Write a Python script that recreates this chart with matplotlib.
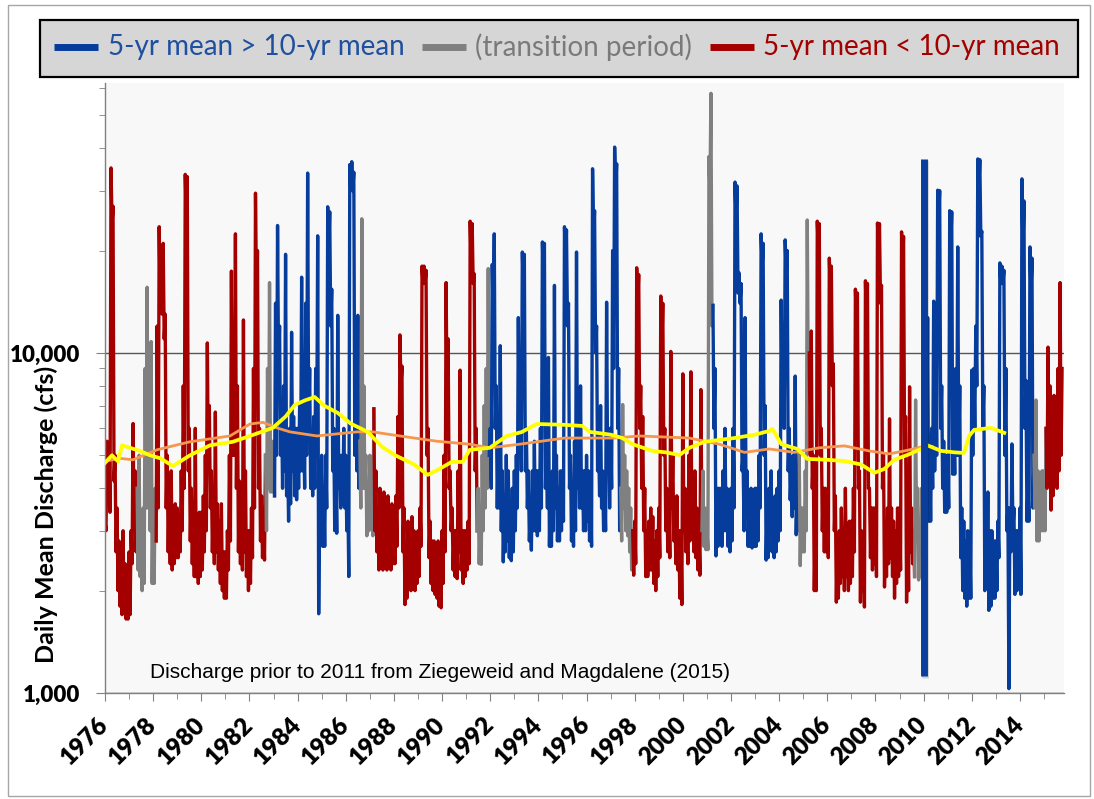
import matplotlib
matplotlib.use("Agg")
import matplotlib.pyplot as plt
import matplotlib.patheffects as pe
from matplotlib.patches import Rectangle
from matplotlib.lines import Line2D
import numpy as np

# ---- data (cfs) ----
start_year = 1976
# upper value reached in each month, Jan 1976 .. Oct 2015
month_peak_cfs = [
    3200, 5500, 5000, 35000, 27000, 5000, 3500, 2800, 2600, 3000, 2400, 2200,  # 1976
    2600, 3000, 6200, 4500, 4000, 5000, 3200, 3500, 9000, 15600, 5500, 10800,  # 1977
    3500, 4000, 12000, 23500, 16000, 21000, 13000, 5000, 4000, 4500, 3500, 3600,  # 1978
    3500, 3300, 4500, 8000, 33500, 33000, 6000, 4000, 3500, 6000, 3000, 3400,  # 1979
    3400, 3800, 5000, 10700, 7000, 4500, 3500, 6700, 3600, 3200, 3600, 2600,  # 1980
    2600, 3000, 5000, 17400, 9000, 22400, 8000, 4200, 3500, 12500, 4500, 3000,  # 1981
    3000, 3500, 9000, 29500, 20000, 6000, 3800, 3200, 5000, 9000, 16100, 5500,  # 1982
    5500, 14000, 23700, 12000, 7000, 8000, 19500, 5000, 6000, 11500, 6500, 6000,  # 1983
    6000, 7000, 16700, 6000, 14000, 33800, 9000, 5500, 6500, 9000, 22100, 4000,  # 1984
    5000, 4000, 5000, 26900, 26000, 15400, 6000, 4500, 12900, 5000, 5000, 6000,  # 1985
    5000, 4000, 35800, 36500, 34000, 9000, 12900, 5500, 24800, 8000, 5000, 4000,  # 1986
    5000, 4000, 6850, 4500, 3500, 4000, 3400, 3900, 3300, 3800, 3200, 3600,  # 1987
    3300, 3800, 6500, 11300, 9150, 3500, 2600, 3200, 3000, 3300, 3000, 2800,  # 1988
    3000, 3500, 18000, 18000, 17500, 6000, 3200, 2800, 2800, 2600, 2800, 2500,  # 1989
    3000, 5000, 16100, 11000, 4500, 3500, 3000, 3000, 4500, 8900, 3000, 3000,  # 1990
    3000, 3200, 24400, 24000, 17100, 6000, 4000, 3200, 5000, 7000, 9000, 17700,  # 1991
    6000, 18200, 22400, 8000, 5500, 10500, 4500, 3500, 5000, 4500, 3500, 4000,  # 1992
    4500, 5000, 12700, 9000, 19800, 19500, 6000, 4500, 3500, 4500, 5500, 4500,  # 1993
    4500, 6000, 21200, 21000, 5500, 9700, 4000, 4500, 15800, 5000, 4000, 4500,  # 1994
    4500, 23500, 23000, 14000, 5000, 4000, 5500, 19800, 5000, 8000, 4500, 4500,  # 1995
    5000, 4500, 4000, 34800, 26200, 12000, 5500, 7000, 4500, 4000, 14100, 6000,  # 1996
    6000, 20000, 40300, 36000, 9000, 4000, 7050, 5000, 4500, 4000, 3500, 3000,  # 1997
    3200, 17800, 17000, 8000, 6500, 4000, 3000, 3200, 3500, 3300, 2800, 3000,  # 1998
    3500, 14700, 14000, 6000, 4000, 3800, 10100, 5000, 3500, 3800, 3000, 3000,  # 1999
    8680, 4000, 3500, 5000, 8800, 4000, 4500, 3500, 3000, 7800, 4500, 3500,  # 2000
    3000, 37800, 58000, 13800, 9000, 4000, 4000, 4000, 4500, 6000, 4000, 3500,  # 2001
    4000, 6000, 31800, 31000, 17200, 16000, 5000, 12700, 4500, 3500, 4000, 3500,  # 2002
    4000, 4000, 5000, 22400, 21000, 7000, 3500, 4000, 4500, 3500, 3800, 4000,  # 2003
    4500, 14300, 9000, 21500, 20000, 6000, 4500, 5000, 8550, 4000, 5000, 3500,  # 2004
    3500, 4500, 24600, 10000, 11600, 5000, 3000, 24400, 24000, 6000, 4000, 4000,  # 2005
    3500, 19000, 18000, 9300, 3800, 2800, 3000, 3500, 3000, 4000, 3000, 3200,  # 2006
    3200, 4000, 15400, 15000, 4500, 3000, 2800, 16300, 16000, 4000, 3500, 3500,  # 2007
    3500, 24100, 24000, 15800, 5000, 3000, 3500, 6400, 3500, 3200, 3000, 3500,  # 2008
    3500, 22700, 22000, 6500, 3500, 7950, 3500, 3000, 7270, 4000, 3200, 4000,  # 2009
    6000, 8000, 12700, 5000, 6000, 14200, 9000, 30100, 30000, 8000, 5500, 5000,  # 2010
    5000, 26200, 26000, 6000, 9000, 20500, 8000, 3500, 3200, 2800, 3000, 2800,  # 2011
    8900, 9000, 12000, 37200, 37000, 22800, 8000, 3500, 3900, 3000, 3000, 2800,  # 2012
    2800, 3200, 18400, 18000, 17500, 9000, 3500, 3500, 5400, 3500, 3000, 3000,  # 2013
    3500, 32500, 28000, 8300, 4000, 20500, 19000, 5000, 7270, 4500, 4000, 4500,  # 2014
    4500, 6000, 10400, 8000, 6000, 7500, 7000, 9000, 16100, 9000,  # 2015
]
# low reached between one month's peak and the next
month_trough_cfs = [
    3000, 3600, 3400, 24000, 4200, 2600, 2000, 1800, 1700, 1750, 1650, 1650,  # 1976
    1700, 2400, 3000, 2600, 2300, 2200, 2000, 2100, 3500, 3500, 3000, 2100,  # 1977
    2100, 2800, 3500, 14000, 13000, 11000, 3500, 2600, 2400, 2300, 2400, 2500,  # 1978
    2500, 2600, 3000, 4000, 25000, 4500, 2800, 2400, 2200, 2200, 2100, 2200,  # 1979
    2300, 2600, 3000, 4500, 3500, 2600, 2400, 2600, 2300, 2100, 2000, 1900,  # 1980
    1900, 2300, 2800, 5000, 5000, 4000, 2600, 2400, 2300, 2600, 2200, 2000,  # 1981
    2100, 2500, 3500, 15000, 4000, 2800, 2500, 2460, 3000, 4000, 3900, 3900,  # 1982
    3800, 5000, 9000, 5000, 4000, 4500, 3800, 3200, 3600, 4500, 3800, 3700,  # 1983
    4000, 4500, 4500, 4000, 5000, 6000, 4000, 3800, 4000, 5000, 1710, 3500,  # 1984
    2700, 2700, 3500, 20000, 12000, 4500, 3000, 2950, 4000, 3500, 3600, 3500,  # 1985
    3000, 2200, 30000, 30000, 5000, 4500, 4000, 3500, 4000, 4000, 2900, 3000,  # 1986
    3200, 2900, 3000, 2600, 2300, 2500, 2300, 2500, 2300, 2400, 2300, 2400,  # 1987
    2400, 2700, 3500, 8000, 2600, 1820, 1900, 2100, 2000, 2100, 2000, 2100,  # 1988
    2200, 2700, 16000, 16000, 5000, 2500, 2100, 2000, 1950, 1900, 1800, 1780,  # 1989
    2100, 2600, 7000, 4000, 3000, 2300, 2200, 2170, 2600, 2300, 2100, 2200,  # 1990
    2300, 2400, 18000, 16000, 4500, 3000, 2400, 2390, 3000, 3500, 4000, 5000,  # 1991
    4000, 12000, 6000, 3500, 3500, 3000, 2430, 2600, 2800, 2500, 2450, 2600,  # 1992
    3000, 3500, 5000, 4500, 15000, 4500, 3500, 2800, 2630, 3000, 3000, 2900,  # 1993
    3000, 3500, 16000, 4000, 3500, 2700, 2700, 3000, 3500, 2800, 2800, 3000,  # 1994
    3200, 18000, 12000, 4000, 2800, 2700, 3000, 4000, 3500, 3500, 3000, 3000,  # 1995
    3200, 2800, 2700, 22000, 10000, 4500, 3800, 3500, 3000, 3000, 4500, 3500,  # 1996
    4000, 9000, 30000, 6000, 3000, 2800, 3500, 3000, 2900, 2600, 2300, 2220,  # 1997
    2400, 14000, 6000, 4000, 3000, 2200, 2200, 2300, 2300, 2100, 2000, 2200,  # 1998
    2500, 10000, 5000, 3000, 2600, 2500, 3500, 2800, 2400, 2300, 1900, 1820,  # 1999
    3000, 2600, 2400, 2800, 3000, 2600, 2500, 2300, 2220, 3000, 2700, 2640,  # 2000
    2640, 30000, 12000, 6000, 2530, 2700, 2800, 2700, 3000, 3000, 2700, 2600,  # 2001
    2800, 3500, 25000, 15000, 14000, 4500, 3000, 3500, 2700, 2700, 2670, 2700,  # 2002
    2700, 2800, 3500, 18000, 5000, 2460, 2500, 3000, 2600, 2500, 2600, 2800,  # 2003
    3000, 7000, 6000, 17000, 4500, 3700, 3300, 3500, 2920, 3000, 2370, 2600,  # 2004
    2600, 3000, 8000, 5000, 4000, 2000, 2000, 20000, 5000, 3000, 2600, 2600,  # 2005
    2500, 15000, 8000, 3000, 1850, 1900, 2100, 2200, 2000, 2200, 2000, 2100,  # 2006
    2200, 2600, 12000, 4000, 1850, 2000, 1790, 12000, 4000, 2500, 2300, 2400,  # 2007
    2200, 20000, 14000, 4000, 2050, 2200, 2400, 2500, 2200, 1900, 2100, 2200,  # 2008
    2300, 18000, 5000, 1850, 2000, 2600, 2400, 2200, 2800, 2150, 2200, 2600,  # 2009
    4000, 4500, 3200, 3200, 4000, 4500, 5000, 25000, 6000, 4000, 3400, 3400,  # 2010
    3500, 20000, 4400, 4400, 5000, 5000, 2500, 2000, 1900, 1800, 1900, 1900,  # 2011
    5000, 6000, 8000, 30000, 22000, 6000, 2000, 2200, 1750, 1800, 1900, 1900,  # 2012
    2000, 2500, 16000, 16000, 5000, 3000, 1030, 2600, 3000, 1950, 2000, 2200,  # 2013
    1950, 20000, 6000, 3200, 3200, 15000, 3500, 3500, 2800, 2800, 3000, 3000,  # 2014
    3000, 4000, 5000, 3450, 3800, 4200, 4000, 4500, 5000,  # 2015
]

# periods: 5-yr mean above / below 10-yr mean, or in transition
period_start = [1976.0, 1977.37, 1978.15, 1982.70, 1983.05, 1986.62, 1987.20,
                1991.50, 1992.0, 1997.45, 1997.95, 2000.80, 2001.27, 2004.87,
                2005.27, 2009.65, 2010.0, 2014.60, 2015.10]
period_kind = ["below", "trans", "below", "trans", "above", "trans", "below",
               "trans", "above", "trans", "below", "trans", "above", "trans",
               "below", "trans", "above", "trans", "below"]

# 5-yr moving mean (yellow) and 10-yr moving mean (orange)
ma5_year = [1976.00, 1976.29, 1976.54, 1976.71, 1977.04, 1977.45, 1977.87, 1978.30,
            1978.82, 1979.53, 1980.36, 1981.31, 1982.02, 1982.97, 1983.50, 1983.88,
            1984.30, 1984.71, 1985.10, 1985.67, 1986.20, 1986.91, 1987.50, 1988.03,
            1988.86, 1989.40, 1989.82, 1990.40, 1990.85, 1991.15, 1991.98, 1992.68,
            1993.30, 1993.93, 1995.00, 1995.83, 1996.12, 1997.00, 1997.49, 1997.91,
            1998.74, 1999.30, 1999.86, 2000.27, 2000.90, 2002.14, 2003.00, 2003.60,
            2003.72, 2004.09, 2004.76, 2005.17, 2006.00, 2006.71, 2007.40, 2007.95,
            2008.37, 2008.78, 2009.32, 2009.90, 2009.98, 2010.0, 2010.10, 2010.73,
            2011.30, 2011.68, 2011.89, 2012.10, 2012.80, 2013.35]
ma5_cfs = [4750, 5000, 4800, 5350, 5260, 5150, 5000, 4900,
           4650, 5000, 5350, 5480, 5700, 6020, 6500, 7030,
           7250, 7420, 7000, 6660, 6200, 5860, 5300, 5010,
           4690, 4380, 4530, 4780, 4780, 5190, 5260, 5700,
           5850, 6180, 6150, 6100, 5860, 5750, 5620, 5390,
           5150, 5100, 5010, 5260, 5480, 5620, 5750, 5900,
           5980, 5390, 5220, 4880, 4850, 4810, 4700, 4440,
           4560, 4850, 5010, 5220, 5270, np.nan, 5370, 5150,
           5100, 5080, 5700, 5940, 6020, 5820]

ma10_year = [1976.00, 1976.60, 1977.16, 1978.16, 1979.53, 1981.19, 1982.02, 1982.56,
             1983.14, 1983.68, 1984.80, 1986.46, 1987.12, 1988.24, 1989.78, 1991.15,
             1991.98, 1993.22, 1995.09, 1997.16, 1998.20, 2000.27, 2001.52, 2002.56,
             2003.59, 2004.63, 2005.67, 2006.71, 2007.74, 2008.57, 2009.20, 2009.98,
             2010.0, 2010.10, 2010.36]
ma10_cfs = [4800, 4900, 4850, 5190, 5480, 5700, 6180, 6250,
            6020, 5860, 5700, 5860, 5860, 5700, 5500, 5390,
            5260, 5390, 5620, 5620, 5700, 5620, 5390, 5100,
            5220, 5100, 5260, 5330, 5150, 5050, 5150, 5300,
            np.nan, 5330, 5300]

# record splice at the start of 2010
splice_year = 2010.0
splice_low, splice_high = 1120, 37200

colors = {"above": "#063c9c", "trans": "#808080", "below": "#a50000"}
legend_labels = ["5-yr mean > 10-yr mean", "(transition period)", "5-yr mean < 10-yr mean"]
legend_text_colors = ["#1f4f9f", "#7a7a7a", "#a30000"]

FONT = "Lato"
ARIAL = "Liberation Sans"

W, H = 1094, 799
fig = plt.figure(figsize=(W / 100, H / 100), dpi=100)

# chart frame
fig.add_artist(Rectangle((8 / W, 3 / H), (1090 - 8) / W, (794 - 3) / H,
                         transform=fig.transFigure, fill=False,
                         edgecolor="#a6a6a6", lw=1))

ax = fig.add_axes([105 / W, (H - 693) / H, 959 / W, 610 / H])
ax.set_facecolor("#f8f8f8")

# interleave monthly peaks and the troughs between them
n = len(month_peak_cfs)
t = np.empty(2 * n - 1)
q = np.empty(2 * n - 1)
t[0::2] = start_year + np.arange(n) / 12
t[1::2] = start_year + (np.arange(n - 1) + 0.5) / 12
q[0::2] = month_peak_cfs
q[1::2] = month_trough_cfs

period_end = period_start[1:] + [t[-1] + 1]
for s, e, kind in zip(period_start, period_end, period_kind):
    i0 = max(np.searchsorted(t, s) - 1, 0)
    i1 = np.searchsorted(t, e)
    ax.plot(t[i0:i1], q[i0:i1], color=colors[kind], lw=2.4,
            solid_joinstyle="round", zorder=2)

ax.plot(ma10_year, ma10_cfs, color="#f5974f", lw=2.0, zorder=3)
ax.plot(ma5_year, ma5_cfs, color="#ffff00", lw=2.7, zorder=4)

ax.plot([splice_year, splice_year], [splice_low, splice_high], color="#0a3e9a",
        lw=5, zorder=5, solid_capstyle="butt",
        path_effects=[pe.SimpleLineShadow(offset=(1.2, -1), shadow_color="k",
                                          alpha=0.15, rho=1), pe.Normal()])

ax.set_yscale("log")
ax.set_ylim(1000, 62200)
ax.set_xlim(1976, 2015.83)

ax.set_yticks([1000, 10000])
ax.set_yticklabels(["1,000", "10,000"])
ax.set_yticks([v * m for m in (1000, 10000) for v in range(2, 10) if v * m <= 62000],
              minor=True)
ax.yaxis.set_minor_formatter(plt.NullFormatter())
ax.yaxis.grid(True, which="major", color="#555555", lw=1)
ax.set_axisbelow(True)

ax.set_xticks(range(1976, 2016, 2))
ax.set_xticklabels([str(y) for y in range(1976, 2016, 2)])
ax.set_xticks(range(1976, 2016), minor=True)

for side in ("top", "right"):
    ax.spines[side].set_visible(False)
for side in ("left", "bottom"):
    ax.spines[side].set_color("#808080")
    ax.spines[side].set_linewidth(1)

ax.tick_params(axis="y", which="major", length=6.5, color="#808080", pad=11)
ax.tick_params(axis="y", which="minor", length=4, color="#808080")
ax.tick_params(axis="x", which="major", length=6, color="#808080", pad=14)
ax.tick_params(axis="x", which="minor", length=4, color="#808080")
for lab in ax.get_yticklabels():
    lab.set_fontfamily(FONT)
    lab.set_fontweight("heavy")
    lab.set_fontsize(16)
for lab in ax.get_xticklabels():
    lab.set_fontfamily(FONT)
    lab.set_fontweight("heavy")
    lab.set_fontsize(17.5)
    lab.set_rotation(45)
    lab.set_ha("right")
    lab.set_va("center")
    lab.set_rotation_mode("anchor")

fig.text(46 / W, 1 - 514 / H, "Daily Mean Discharge (cfs)", rotation=90,
         ha="center", va="center", fontfamily=FONT, fontweight="bold", fontsize=18)

ax.text(0.047, 0.034, "Discharge prior to 2011 from Ziegeweid and Magdalene (2015)",
        transform=ax.transAxes, ha="left", va="center", fontfamily=ARIAL,
        fontsize=15, color="black")

# legend box across the top
fig.add_artist(Rectangle((40 / W, 1 - 77 / H), 1038 / W, 57 / H,
                         transform=fig.transFigure, facecolor="#d6d6d6",
                         edgecolor="black", lw=1.6))
handle_x = [54, 422, 710]
text_x = [108, 475, 763]
yc = 1 - 47 / H
for hx, tx, kind, lab, tc in zip(handle_x, text_x, ["above", "trans", "below"],
                                 legend_labels, legend_text_colors):
    fig.add_artist(Line2D([hx / W, (hx + 44) / W], [yc, yc], transform=fig.transFigure,
                          color=colors[kind], lw=5, solid_capstyle="butt"))
    fig.text(tx / W, yc, lab, ha="left", va="center", color=tc,
             fontfamily=FONT, fontsize=20)

fig.savefig("out.png", dpi=100)
